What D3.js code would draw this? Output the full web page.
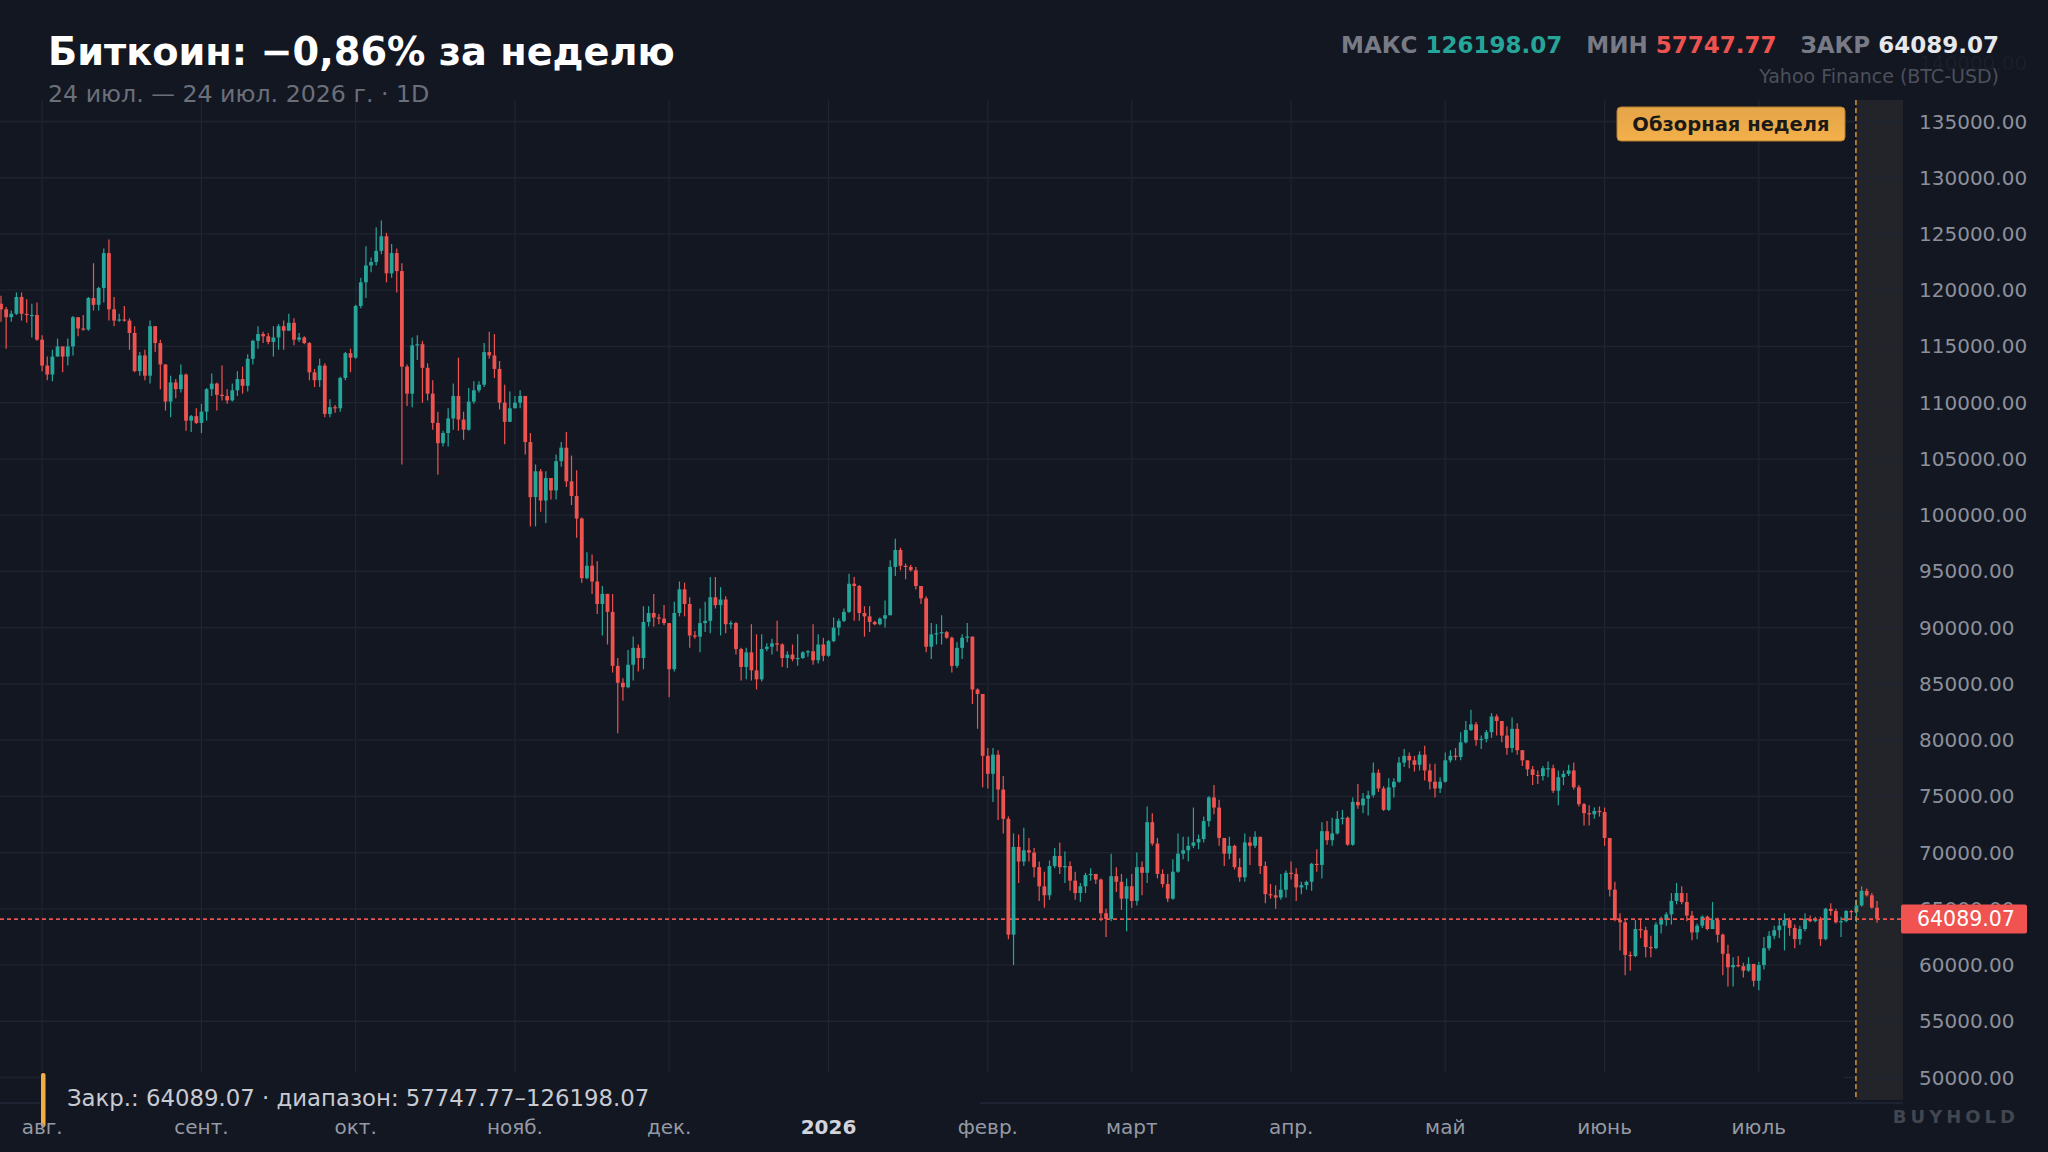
<!DOCTYPE html>
<html>
<head>
<meta charset="utf-8">
<script src="https://cdn.jsdelivr.net/npm/d3@7"></script>
<style>
  html, body { margin: 0; padding: 0; background: #131722; }
  svg { display: block; }
</style>
</head>
<body>
<div id="chart"></div>
<script>
// daily BTC-USD candles, 24 Jul 2025 .. 24 Jul 2026, prices in thousands USD
var startDay = "2025-07-24";
var reviewDay = "2026-07-20";
var firstOpenK = 118.8;

var closesK = [
  118.3,117.6,117.9,119.4,117.9,117.8,117.8,115.6,113.3,112.5,
  114.1,115.0,114.1,115.0,117.6,116.6,116.5,119.3,118.7,120.2,
  123.3,118.3,117.3,117.4,117.3,116.2,112.8,114.2,112.4,116.8,
  115.3,113.4,110.1,111.8,111.2,112.5,108.4,108.8,108.2,109.2,
  111.2,111.7,110.7,110.6,110.2,111.1,112.1,111.5,113.9,115.5,
  116.1,115.9,115.4,115.8,116.8,116.4,117.1,115.6,115.8,115.3,
  112.7,112.0,113.3,109.0,109.6,109.5,112.2,114.4,114.0,118.6,
  120.7,122.2,122.5,123.5,124.8,121.5,123.3,121.7,113.2,110.8,
  115.1,115.2,113.1,110.8,108.2,106.4,107.3,108.6,110.6,108.5,
  107.6,110.1,111.1,111.6,114.5,114.2,113.0,110.0,108.3,109.5,
  110.0,110.6,106.5,101.6,103.9,101.3,103.3,102.2,104.8,106.0,
  103.0,101.7,99.7,94.4,95.5,94.1,92.1,93.0,91.4,86.6,
  85.1,84.7,86.7,88.2,87.3,90.5,91.3,90.9,90.8,90.4,
  86.3,91.3,93.4,92.1,89.3,89.2,90.4,90.6,92.7,92.0,
  92.5,90.3,90.4,88.1,86.5,87.8,86.2,85.4,88.1,88.3,
  88.6,88.5,87.3,87.6,87.2,87.3,87.8,87.9,87.1,88.5,
  87.5,88.8,90.0,90.6,91.4,93.9,93.7,91.3,91.0,90.5,
  90.3,90.8,91.1,95.4,96.9,95.5,95.4,95.1,93.7,92.6,
  88.3,89.4,89.5,89.6,89.1,86.6,88.2,89.1,89.2,84.5,
  84.1,78.6,77.0,78.7,75.6,73.0,62.7,70.5,69.2,70.2,
  70.0,68.7,67.0,66.2,68.8,69.7,68.7,68.8,67.5,66.4,
  67.0,68.0,68.1,67.6,64.6,64.1,67.9,67.4,65.9,67.0,
  65.7,68.7,68.2,72.7,70.8,68.1,67.2,65.9,68.3,69.9,
  70.2,70.6,70.9,71.2,72.8,74.9,74.0,71.3,69.9,70.6,
  68.7,67.8,70.9,70.6,71.4,68.8,66.3,66.2,66.0,66.7,
  68.2,68.1,66.9,67.1,67.4,69.0,68.9,71.9,71.1,71.7,
  73.0,73.1,70.7,74.5,74.2,74.8,75.1,77.1,75.7,73.8,
  75.8,76.3,78.0,78.6,78.2,77.8,78.7,77.3,76.3,75.7,
  76.3,78.2,78.6,78.5,79.8,80.9,81.4,80.0,80.1,80.7,
  82.1,81.7,80.4,79.3,81.0,79.1,78.2,77.4,76.9,76.8,
  77.5,77.5,75.5,76.7,77.0,77.3,75.8,74.3,73.5,73.4,
  73.7,73.6,71.3,66.7,64.0,63.8,60.9,60.8,63.2,63.1,
  61.6,61.5,63.6,64.0,64.5,65.7,66.4,65.6,64.4,62.9,
  63.5,64.3,63.2,64.0,62.7,61.0,59.8,60.0,59.9,59.5,
  60.1,58.6,60.0,61.5,62.6,63.1,63.5,64.0,63.3,62.3,
  63.2,64.1,63.9,64.1,62.3,65.0,64.8,63.8,63.9,64.8,
  64.7,65.3,66.6,66.2,65.1,64.08907
];

var highsK = [
  119.5,118.5,118.2,119.8,119.8,119.2,118.8,118.9,116.0,114.1,
  114.7,115.7,115.0,115.7,117.7,117.6,117.8,119.4,122.4,120.3,
  123.7,124.5,119.4,117.9,118.6,117.5,116.8,114.5,114.7,117.3,
  116.8,115.6,113.4,112.4,112.1,113.4,112.6,108.9,109.5,109.9,
  111.3,112.6,111.8,113.3,111.2,111.7,112.8,113.2,114.3,115.6,
  116.8,116.3,116.2,116.8,117.0,117.3,117.9,117.5,116.2,115.9,
  115.4,113.0,113.9,113.5,110.3,109.8,112.3,114.5,114.8,118.7,
  121.1,123.9,122.9,125.6,126.19807,125.1,124.1,123.7,122.4,113.4,
  115.8,116.0,115.5,113.5,112.0,109.2,107.5,109.5,111.7,114.0,
  109.2,111.3,111.9,111.9,115.3,116.3,116.1,113.7,111.6,111.0,
  110.6,111.1,110.6,107.3,104.5,104.1,103.9,103.3,105.4,106.5,
  107.4,105.3,104.0,99.8,96.7,96.5,95.9,93.7,93.0,93.0,
  87.3,85.5,88.0,89.2,88.5,91.9,91.9,93.0,91.2,92.0,
  90.4,92.3,94.1,94.0,92.7,89.7,91.7,92.3,94.5,94.5,
  93.6,92.8,90.6,90.5,88.2,88.2,90.3,89.4,89.4,88.6,
  89.0,90.6,88.6,87.9,88.5,89.4,87.9,88.0,90.3,89.4,
  89.1,88.9,90.9,90.8,91.7,94.8,94.5,93.8,91.9,91.9,
  90.6,90.9,92.4,96.0,97.9,97.1,95.7,95.6,95.4,93.7,
  92.8,90.4,90.3,91.1,89.7,89.2,88.7,89.4,90.4,89.2,
  84.6,84.1,79.3,79.3,79.1,76.8,73.2,71.7,71.6,72.2,
  71.3,70.4,69.2,68.3,69.3,70.4,70.9,70.1,69.2,68.3,
  67.3,68.2,68.6,68.1,67.7,65.0,69.9,68.7,68.1,67.7,
  68.1,70.0,69.2,74.1,73.5,71.3,68.5,68.1,69.4,71.7,
  71.4,71.4,74.0,71.6,73.2,75.0,76.0,74.7,71.3,71.4,
  70.7,69.5,71.7,71.4,71.9,71.4,69.2,67.2,67.1,68.1,
  68.4,69.2,68.6,67.4,67.5,69.1,70.3,72.7,72.8,73.1,
  73.7,73.8,73.2,74.9,76.1,75.3,75.5,78.0,77.4,75.9,
  76.6,76.6,78.5,79.2,78.9,78.6,79.0,79.5,77.9,77.9,
  76.7,78.9,79.1,79.3,80.7,81.7,82.7,81.6,80.4,80.9,
  82.4,82.3,81.7,81.2,82.0,81.5,79.1,78.2,77.7,77.3,
  77.7,78.1,77.8,77.3,77.3,77.8,78.0,76.0,74.4,74.2,
  74.0,74.1,74.0,71.3,67.4,64.6,64.0,61.2,64.0,64.0,
  63.4,62.6,63.8,64.3,64.7,66.4,67.3,67.0,66.4,64.8,
  63.7,64.4,64.4,65.6,64.2,62.8,61.8,60.7,60.8,60.2,
  60.7,60.1,60.3,62.5,63.0,63.5,64.1,64.6,64.2,63.6,
  63.5,64.6,64.4,64.3,64.3,65.1,65.5,65.0,64.3,64.9,
  64.9,65.8,67.0,66.8,66.4,65.7
];

var lowsK = [
  117.2,114.8,117.2,117.8,117.3,117.1,115.8,115.5,112.8,112.0,
  111.9,114.1,112.7,113.3,114.2,115.9,116.4,116.4,118.2,118.2,
  118.9,117.3,116.8,117.2,117.2,114.7,112.7,112.4,112.0,111.7,
  114.5,111.2,109.3,108.7,110.4,110.9,107.5,107.4,108.1,107.3,
  108.4,110.6,109.3,110.2,109.9,110.1,110.6,110.8,111.0,113.4,
  114.8,115.3,115.2,114.1,114.7,114.7,116.4,115.1,115.4,115.2,
  112.0,111.4,111.4,108.7,108.7,109.1,109.2,112.0,112.7,113.9,
  118.4,119.3,121.6,122.2,123.2,120.7,121.1,119.8,104.5,109.7,
  109.6,113.8,110.0,110.2,107.6,103.6,106.1,106.1,107.6,107.5,
  106.7,107.5,109.9,110.9,111.4,113.9,112.2,109.4,106.3,108.3,
  109.5,109.5,105.4,99.0,99.0,100.3,99.3,101.4,101.4,104.3,
  102.5,100.9,98.0,94.0,94.3,93.0,91.2,89.3,88.5,86.0,
  80.6,83.5,84.6,85.3,86.1,86.3,90.1,90.1,90.3,90.2,
  83.8,86.1,91.0,91.0,88.2,89.0,87.8,89.6,89.5,91.7,
  89.3,89.5,89.9,87.6,85.3,85.4,85.3,84.5,85.2,87.9,
  87.6,87.9,86.5,86.4,87.0,86.6,87.2,87.4,86.7,86.8,
  87.0,87.4,88.7,89.3,90.5,91.3,90.6,90.6,89.2,89.6,
  90.2,90.2,90.0,91.1,94.6,95.1,94.3,95.0,93.4,92.1,
  87.8,87.2,88.5,88.5,89.0,86.0,86.4,87.2,88.7,83.2,
  81.0,75.8,75.7,74.5,72.9,71.7,62.3,60.0,67.3,68.8,
  69.2,67.8,65.7,65.1,65.8,68.6,68.1,67.3,66.6,65.8,
  65.6,66.4,67.5,67.2,63.9,62.5,63.9,66.5,64.9,63.0,
  65.1,65.3,66.2,67.3,70.6,67.7,66.9,65.6,65.8,68.2,
  69.4,69.2,70.4,70.3,70.9,72.3,73.4,70.6,68.8,69.4,
  68.5,67.4,67.4,68.9,70.4,68.1,65.5,65.9,65.0,65.8,
  66.0,67.6,65.7,66.3,66.7,66.6,68.3,67.7,70.7,70.6,
  71.6,72.5,70.6,70.6,73.9,73.5,73.3,74.9,75.4,73.7,
  73.7,74.9,76.2,77.6,77.5,77.2,77.3,76.4,75.6,74.9,
  75.3,76.2,78.0,78.2,78.2,79.7,80.8,79.5,79.2,79.8,
  80.2,80.4,79.8,78.7,78.9,78.7,77.7,76.8,76.0,76.1,
  76.4,76.7,75.3,74.2,76.0,76.8,75.6,74.1,72.4,72.4,
  73.0,73.2,70.6,66.1,63.9,61.3,59.1,59.5,60.7,62.4,
  60.7,60.7,61.4,62.8,63.5,63.6,65.4,65.4,63.9,62.2,
  62.3,63.3,63.1,63.2,62.0,59.1,58.1,58.1,59.8,58.9,
  59.4,58.1,57.74777,59.6,61.3,62.3,62.4,61.3,62.6,61.5,
  61.8,63.0,63.8,63.8,61.7,62.2,64.4,63.7,62.5,63.8,
  64.0,63.8,65.2,66.1,65.0,63.75
];

var monthLabels = ["авг.", "сент.", "окт.", "нояб.", "дек.", "2026", "февр.", "март", "апр.", "май", "июнь", "июль"];
var priceTicks = [50000, 55000, 60000, 65000, 70000, 75000, 80000, 85000, 90000, 95000,
                  100000, 105000, 110000, 115000, 120000, 125000, 130000, 135000];
var headerStats = [["МАКС", "126198.07", "#26a69a"], ["МИН", "57747.77", "#ef5350"], ["ЗАКР", "64089.07", "#e6e8ec"]];
var titleText = "Биткоин: −0,86% за неделю";
var subtitleText = "24 июл. — 24 июл. 2026 г. · 1D";
var sourceText = "Yahoo Finance (BTC-USD)";
var legendText = "Закр.: 64089.07 · диапазон: 57747.77–126198.07";
var badgeText = "Обзорная неделя";
var lastClose = 64089.07;

function drawChart() {
    var width = 2048;
    var height = 1152;
    var plotRight = 1903;
    var plotTop = 100;
    var plotBottom = 1073;
    var font = "'DejaVu Sans', Verdana, sans-serif";
    var upColor = "#26a69a";
    var downColor = "#ef5350";
    var gridColor = "#1f2430";

    var parse = d3.timeParse("%Y-%m-%d");
    var start = parse(startDay);
    var candles = closesK.map(function (c, i) {
        return {
            date: d3.timeDay.offset(start, i),
            open: (i ? closesK[i - 1] : firstOpenK) * 1000,
            high: highsK[i] * 1000,
            low: lowsK[i] * 1000,
            close: c * 1000
        };
    });
    var end = candles[candles.length - 1].date;

    var x = d3.scaleTime().domain([start, end]).range([1, 1877]);
    var y = d3.scaleLinear().domain([50000, 135000]).range([1077.5, 121.5]);
    var step = x(d3.timeDay.offset(start, 1)) - x(start);
    var bodyW = step * 0.74;

    var svg = d3.select("#chart")
        .append("svg")
        .attr("width", width)
        .attr("height", height)
        .style("font-family", font);

    svg.append("rect").attr("width", width).attr("height", height).attr("fill", "#131722");

    svg.append("clipPath").attr("id", "plotClip")
        .append("rect").attr("x", 0).attr("y", 0).attr("width", plotRight).attr("height", plotBottom);

    // review week highlight
    var xr = x(parse(reviewDay)) - 0.5;
    svg.append("rect")
        .attr("x", xr).attr("y", 100)
        .attr("width", plotRight - xr).attr("height", 1100 - 100)
        .attr("fill", "#2a2a2c").attr("fill-opacity", 0.75);

    // horizontal grid
    svg.append("g").selectAll("line")
        .data(priceTicks)
        .join("line")
        .attr("x1", 0).attr("x2", plotRight)
        .attr("y1", function (d) { return y(d); })
        .attr("y2", function (d) { return y(d); })
        .attr("stroke", gridColor).attr("stroke-width", 1.3);

    svg.append("line")
        .attr("x1", 0).attr("x2", plotRight).attr("y1", 1103).attr("y2", 1103)
        .attr("stroke", "#23283a").attr("stroke-width", 1.3);

    // month grid
    var months = d3.timeMonth.range(d3.timeMonth.ceil(start), end);
    svg.append("g").selectAll("line")
        .data(months)
        .join("line")
        .attr("x1", function (d) { return x(d); })
        .attr("x2", function (d) { return x(d); })
        .attr("y1", plotTop).attr("y2", plotBottom)
        .attr("stroke", gridColor).attr("stroke-width", 1.3);

    // candles
    var cg = svg.append("g").attr("clip-path", "url(#plotClip)");
    var candle = cg.selectAll("g")
        .data(candles)
        .join("g")
        .attr("fill", function (d) { return d.close >= d.open ? upColor : downColor; })
        .attr("stroke", function (d) { return d.close >= d.open ? upColor : downColor; });

    candle.append("line")
        .attr("x1", function (d) { return x(d.date); })
        .attr("x2", function (d) { return x(d.date); })
        .attr("y1", function (d) { return y(Math.max(d.high, d.open, d.close)); })
        .attr("y2", function (d) { return y(Math.min(d.low, d.open, d.close)); })
        .attr("stroke-width", 1.2);

    candle.append("rect")
        .attr("stroke", "none")
        .attr("x", function (d) { return x(d.date) - bodyW / 2; })
        .attr("width", bodyW)
        .attr("y", function (d) { return y(Math.max(d.open, d.close)); })
        .attr("height", function (d) {
            return Math.max(1.2, Math.abs(y(d.open) - y(d.close)));
        });

    // last price line
    svg.append("line")
        .attr("x1", 0).attr("x2", plotRight)
        .attr("y1", y(lastClose)).attr("y2", y(lastClose))
        .attr("stroke", downColor).attr("stroke-width", 1.8)
        .attr("stroke-dasharray", "4,3");

    // review week marker line
    svg.append("line")
        .attr("x1", xr).attr("x2", xr)
        .attr("y1", 100).attr("y2", 1100)
        .attr("stroke", "#c98a36").attr("stroke-width", 1.6)
        .attr("stroke-dasharray", "5,3");

    // legend panel
    svg.append("rect").attr("x", 40).attr("y", 1072).attr("width", 1804).attr("height", 29).attr("fill", "#131722");
    svg.append("rect").attr("x", 40).attr("y", 1072).attr("width", 940).attr("height", 40).attr("fill", "#131722");
    svg.append("rect").attr("x", 41).attr("y", 1073).attr("width", 4.5).attr("height", 54).attr("rx", 2).attr("fill", "#f2ad45");
    svg.append("text")
        .attr("x", 67).attr("y", 1106)
        .attr("fill", "#c8cbd2").style("font-size", "22.8px")
        .text(legendText);

    // month labels
    svg.append("g").selectAll("text")
        .data(months)
        .join("text")
        .attr("x", function (d) { return x(d); })
        .attr("y", 1134)
        .attr("text-anchor", "middle")
        .style("font-size", "20px")
        .style("font-weight", function (d, i) { return monthLabels[i] === "2026" ? "bold" : "normal"; })
        .attr("fill", function (d, i) { return monthLabels[i] === "2026" ? "#d1d4dc" : "#959aa4"; })
        .text(function (d, i) { return monthLabels[i]; });

    // price axis labels
    svg.append("g").selectAll("text")
        .data(priceTicks)
        .join("text")
        .attr("x", 1919)
        .attr("y", function (d) { return y(d); })
        .attr("dy", "0.35em")
        .style("font-size", "20px")
        .attr("fill", "#8c909b")
        .text(function (d) { return d3.format(".2f")(d); });

    // top label sits under the header, barely visible
    svg.append("text")
        .attr("x", 1919).attr("y", y(140000) - 2).attr("dy", "0.35em")
        .style("font-size", "20px").attr("fill", "#8c909b").attr("fill-opacity", 0.08)
        .text(d3.format(".2f")(140000));

    // last price tag
    svg.append("rect")
        .attr("x", 1901).attr("y", y(lastClose) - 14.5)
        .attr("width", 126).attr("height", 29).attr("rx", 2)
        .attr("fill", "#f05350");
    svg.append("text")
        .attr("x", 1917).attr("y", y(lastClose)).attr("dy", "0.35em")
        .style("font-size", "20.5px").attr("fill", "#ffffff")
        .text(d3.format(".2f")(lastClose));

    // title block
    svg.append("text")
        .attr("x", 48).attr("y", 65)
        .style("font-size", "38.3px").style("font-weight", "bold")
        .attr("fill", "#ffffff")
        .text(titleText);
    svg.append("text")
        .attr("x", 48).attr("y", 102)
        .style("font-size", "23.7px")
        .attr("fill", "#6b6f7a")
        .text(subtitleText);

    var st = svg.append("text")
        .attr("x", 1999).attr("y", 53)
        .attr("text-anchor", "end")
        .style("font-size", "23px").style("font-weight", "bold");
    headerStats.forEach(function (s, i) {
        st.append("tspan").attr("dx", i ? 24 : 0).attr("fill", "#787b86").text(s[0] + " ");
        st.append("tspan").attr("fill", s[2]).text(s[1]);
    });

    svg.append("text")
        .attr("x", 1999).attr("y", 83)
        .attr("text-anchor", "end")
        .style("font-size", "19px")
        .attr("fill", "#4c505b")
        .text(sourceText);

    // review badge
    var badgeGrad = svg.append("defs").append("linearGradient")
        .attr("id", "badgeGrad").attr("x1", 0).attr("x2", 0).attr("y1", 0).attr("y2", 1);
    badgeGrad.append("stop").attr("offset", "0%").attr("stop-color", "#e4a549");
    badgeGrad.append("stop").attr("offset", "100%").attr("stop-color", "#f3b04a");
    svg.append("rect")
        .attr("x", 1617).attr("y", 107)
        .attr("width", 228).attr("height", 34).attr("rx", 4)
        .attr("fill", "url(#badgeGrad)")
        .attr("stroke", "#b77c2c").attr("stroke-width", 1);
    svg.append("text")
        .attr("x", 1731).attr("y", 124).attr("dy", "0.35em")
        .attr("text-anchor", "middle")
        .style("font-size", "19.5px").style("font-weight", "bold")
        .attr("fill", "#1c1a17")
        .text(badgeText);

    // watermark
    svg.append("text")
        .attr("x", 2019).attr("y", 1123)
        .attr("text-anchor", "end")
        .style("font-size", "18px").style("font-weight", "bold")
        .style("letter-spacing", "4px")
        .attr("fill", "#42464f")
        .text("BUYHOLD");
}

drawChart();
</script>
</body>
</html>
